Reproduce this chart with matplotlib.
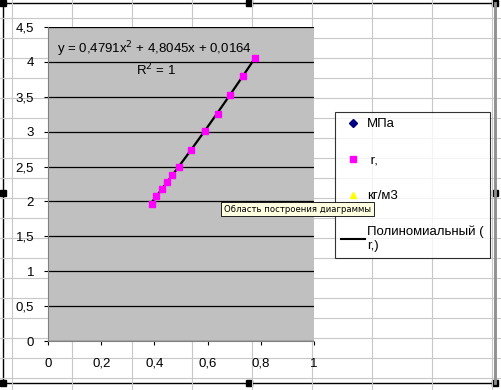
import matplotlib.pyplot as plt
import numpy as np
from matplotlib.lines import Line2D
from matplotlib.patches import Rectangle
from matplotlib.ticker import FuncFormatter, MultipleLocator

plt.rcParams['font.family'] = ['Liberation Sans', 'DejaVu Sans']

# data
x_vals = [0.391, 0.406, 0.427, 0.446, 0.467, 0.491, 0.538, 0.589, 0.638, 0.684, 0.732, 0.779]
r_vals = [1.967, 2.08, 2.18, 2.28, 2.38, 2.49, 2.74, 3.01, 3.26, 3.53, 3.80, 4.06]
legend_labels = ['МПа', ' r,', 'кг/м3', 'Полиномиальный (\nr,)']
eq_text = 'y = 0,4791x$^2$ + 4,8045x + 0,0164'
r2_text = 'R$^2$ = 1'

W, H = 502, 390
fig = plt.figure(figsize=(W / 100, H / 100), dpi=100)

# spreadsheet background grid
bg = fig.add_axes([0, 0, 1, 1])
bg.set_xlim(0, W)
bg.set_ylim(H, 0)
bg.axis('off')
for gx in range(12, W, 60):
    bg.axvline(gx, color='#c8c8c8', lw=0.8)
for gy in range(-2, H, 20):
    bg.axhline(gy, color='#c8c8c8', lw=0.8)
# chart area
bg.add_patch(Rectangle((3, 3), 492, 380, facecolor='white', edgecolor='black', lw=1.0))
bg.plot([495, 495], [3, 383], color='#909090', lw=2)
for hx, hy in [(3, 3), (249, 3), (495, 3), (3, 193), (495, 193), (3, 383), (249, 383), (495, 383)]:
    bg.add_patch(Rectangle((hx - 3, hy - 3), 6, 6, color='black'))

# plot area: x 48..314 px, y 27..341 px
ax = fig.add_axes([48 / W, 1 - 341 / H, 266 / W, 314 / H])
ax.set_facecolor('#c0c0c0')
ax.set_xlim(0, 1)
ax.set_ylim(0, 4.5)
ax.xaxis.set_major_locator(MultipleLocator(0.2))
ax.yaxis.set_major_locator(MultipleLocator(0.5))
fmt = FuncFormatter(lambda v, p: ('%g' % round(v, 2)).replace('.', ','))
ax.xaxis.set_major_formatter(fmt)
ax.yaxis.set_major_formatter(fmt)
ax.grid(axis='y', color='black', lw=0.9)
ax.set_axisbelow(True)
for s in ['top', 'right']:
    ax.spines[s].set_visible(False)
ax.spines['left'].set_color('#808080')
ax.spines['bottom'].set_color('#808080')
ax.tick_params(labelsize=9.5, length=3, color='black')
ax.tick_params(axis='x', pad=9)
ax.tick_params(axis='y', pad=7)

coef = np.polyfit(x_vals, r_vals, 2)
xf = np.linspace(min(x_vals), max(x_vals), 100)
ax.plot(xf, np.polyval(coef, xf), color='black', lw=1.6, zorder=3)
ax.plot(x_vals, r_vals, 's', color='#ff00ff', ms=4.5, zorder=4)
ax.text(0.034, 4.18, eq_text, fontsize=9.5, va='center')
ax.text(0.33, 3.88, r2_text, fontsize=9.5, va='center')

handles = [
    Line2D([], [], marker='D', color='#000080', ls='none', ms=4),
    Line2D([], [], marker='s', color='#ff00ff', ls='none', ms=5),
    Line2D([], [], marker='^', color='#ffff00', ls='none', ms=5),
    Line2D([], [], color='black', lw=1.5),
]
leg = fig.legend(handles, legend_labels, loc='upper left',
                 bbox_to_anchor=(335 / W, 1 - 112 / H), fontsize=9.5,
                 frameon=True, fancybox=False, edgecolor='black',
                 labelspacing=1.8, handlelength=1.8, handletextpad=0.2,
                 borderpad=0.45, borderaxespad=0)
leg.get_frame().set_linewidth(0.8)

# tooltip, drawn above the legend
fig.text(224 / W, 1 - 209 / H, 'Область построения диаграммы', fontsize=6.1,
         family='DejaVu Sans', va='center', zorder=10,
         bbox=dict(boxstyle='square,pad=0.35', facecolor='#ffffe1', edgecolor='black', lw=0.6))

fig.savefig('out.png', dpi=100)
